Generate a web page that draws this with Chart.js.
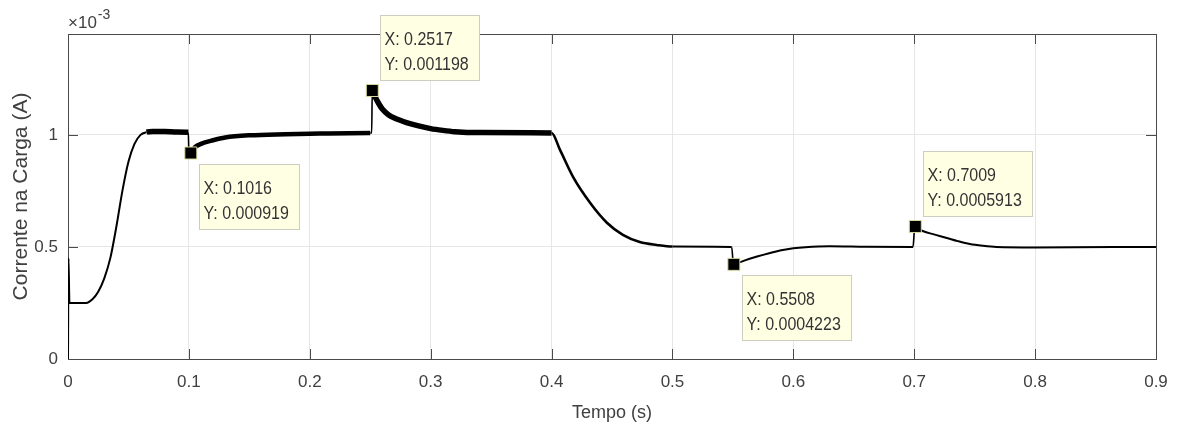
<!DOCTYPE html>
<html>
<head>
<meta charset="utf-8">
<script src="https://cdn.jsdelivr.net/npm/chart.js@4.4.1/dist/chart.umd.min.js"></script>
<style>
  html, body { margin: 0; padding: 0; background: #fff; }
  #wrap { width: 1178px; height: 425px; }
</style>
</head>
<body>
<div id="wrap"><canvas id="chart" width="1178" height="425"></canvas></div>
<script>
// Load current (time in s, current in mA)
const timeS = [
  0, 0.0004, 0.0012, 0.015, 0.02, 0.025, 0.03, 0.035, 0.04, 0.045,
  0.05, 0.055, 0.06, 0.065, 0.07, 0.08, 0.09, 0.0995, 0.1, 0.1016,
  0.105, 0.11, 0.12, 0.13, 0.15, 0.18, 0.2, 0.25, 0.2512, 0.2517,
  0.254, 0.257, 0.26, 0.265, 0.27, 0.28, 0.29, 0.3, 0.31, 0.32,
  0.34, 0.4, 0.407, 0.418, 0.432, 0.446, 0.459, 0.473, 0.487, 0.5,
  0.549, 0.5502, 0.5508, 0.555, 0.56, 0.57, 0.58, 0.59, 0.6, 0.61,
  0.63, 0.66, 0.699, 0.7003, 0.7009, 0.707, 0.717, 0.727, 0.736, 0.746,
  0.757, 0.768, 0.8, 0.9
];
const currentMilliA = [
  0, 0.45, 0.25, 0.25, 0.265, 0.30, 0.36, 0.45, 0.59, 0.75,
  0.88, 0.96, 1.0, 1.012, 1.015, 1.015, 1.013, 1.012, 0.925, 0.919,
  0.945, 0.96, 0.976, 0.988, 0.998, 1.003, 1.005, 1.008, 1.008, 1.198,
  1.17, 1.14, 1.115, 1.09, 1.075, 1.055, 1.04, 1.028, 1.02, 1.014,
  1.01, 1.008, 0.933, 0.81, 0.696, 0.607, 0.554, 0.522, 0.509, 0.502,
  0.5, 0.43, 0.4223, 0.43, 0.44, 0.457, 0.472, 0.485, 0.494, 0.499,
  0.503, 0.501, 0.5, 0.585, 0.5913, 0.571, 0.555, 0.54, 0.526, 0.513,
  0.505, 0.5, 0.498, 0.5
];

// Data tips (values in A, as shown on the tips)
const tipTime = [0.1016, 0.2517, 0.5508, 0.7009];
const tipCurrent = [0.000919, 0.001198, 0.0004223, 0.0005913];
const tipBelow = [true, false, true, false];

const xTicks = [0, 0.1, 0.2, 0.3, 0.4, 0.5, 0.6, 0.7, 0.8, 0.9];
const yTicks = [0, 0.0005, 0.001];

const FONT = '"Liberation Sans", Arial, Helvetica, sans-serif';
const TEXT = '#404040';

const curve = timeS.map((t, i) => ({ x: t, y: currentMilliA[i] * 1e-3 }));
const tips = tipTime.map((t, i) => ({ x: t, y: tipCurrent[i] }));

// MATLAB-style box with inward ticks on all four sides
const framePlugin = {
  id: 'frame',
  beforeDatasetsDraw(chart) {
    const { ctx, chartArea: a, scales: { x, y } } = chart;
    ctx.save();
    ctx.strokeStyle = '#4a4a4a';
    ctx.lineWidth = 1;
    ctx.beginPath();
    xTicks.forEach(v => {
      const px = Math.round(x.getPixelForValue(v)) + 0.5;
      ctx.moveTo(px, a.bottom); ctx.lineTo(px, a.bottom - 10);
      ctx.moveTo(px, a.top); ctx.lineTo(px, a.top + 10);
    });
    yTicks.forEach(v => {
      const py = Math.round(y.getPixelForValue(v)) + 0.5;
      ctx.moveTo(a.left, py); ctx.lineTo(a.left + 10, py);
      ctx.moveTo(a.right, py); ctx.lineTo(a.right - 10, py);
    });
    ctx.stroke();
    ctx.strokeRect(Math.round(a.left) + 0.5, Math.round(a.top) + 0.5,
      Math.round(a.right - a.left), Math.round(a.bottom - a.top));
    ctx.restore();
  },
  afterDraw(chart) {
    const { ctx, chartArea: a } = chart;
    ctx.save();
    ctx.fillStyle = TEXT;
    ctx.textBaseline = 'alphabetic';
    ctx.font = '17px ' + FONT;
    ctx.fillText('\u00d710', a.left, 28);
    const w = ctx.measureText('\u00d710').width;
    ctx.font = '14px ' + FONT;
    ctx.fillText('-3', a.left + w + 1, 19);
    ctx.restore();
  }
};

// Yellow data tip boxes next to the markers
const tipPlugin = {
  id: 'dataTips',
  afterDraw(chart) {
    const { ctx, scales: { x, y } } = chart;
    ctx.save();
    ctx.font = '16px ' + FONT;
    ctx.textBaseline = 'alphabetic';
    tipTime.forEach((t, i) => {
      const px = x.getPixelForValue(t);
      const py = y.getPixelForValue(tipCurrent[i]);
      const lines = ['X: ' + t, 'Y: ' + tipCurrent[i]];
      const w = Math.round(Math.max(...lines.map(s => ctx.measureText(s).width)) + 15);
      const h = 65;
      const bx = Math.round(px + 8) + 0.5;
      const by = Math.round(tipBelow[i] ? py + 11 : py - 10 - h) + 0.5;
      ctx.fillStyle = '#ffffe4';
      ctx.fillRect(bx, by, w, h);
      ctx.strokeStyle = '#cdcdc0';
      ctx.lineWidth = 1;
      ctx.strokeRect(bx, by, w, h);
      ctx.fillStyle = '#333333';
      lines.forEach((s, k) => {
        ctx.save();
        ctx.translate(bx + 4, by + 29 + k * 25);
        ctx.scale(1, 1.2);
        ctx.fillText(s, 0, 0);
        ctx.restore();
      });
    });
    ctx.restore();
  }
};

const ctx = document.getElementById('chart').getContext('2d');
new Chart(ctx, {
  type: 'scatter',
  data: {
    datasets: [
      {
        label: 'data tips',
        data: tips,
        order: 0,
        pointStyle: 'rect',
        pointRadius: 8.5,
        backgroundColor: '#000',
        borderColor: '#dcdca0',
        borderWidth: 1
      },
      {
        label: 'Corrente',
        data: curve,
        order: 1,
        showLine: true,
        pointRadius: 0,
        borderColor: '#000',
        borderWidth: 2,
        cubicInterpolationMode: 'monotone',
        segment: {
          borderWidth: c => {
            const x0 = c.p0.parsed.x, x1 = c.p1.parsed.x;
            if (x1 - x0 < 0.002 && x0 > 0.05) return 1.6;
            if (x0 >= 0.062 && x0 < 0.1) return 5.5;
            if (x0 >= 0.1 && x0 < 0.25) return 4.5;
            if (x0 >= 0.25 && x0 < 0.4) return 5.5;
            if (x0 >= 0.4 && x0 < 0.5) return 2.6;
            return 2;
          }
        }
      }
    ]
  },
  options: {
    responsive: false,
    animation: false,
    events: [],
    layout: { padding: { top: 34, right: 22, bottom: 0, left: 0 } },
    plugins: {
      legend: { display: false },
      tooltip: { enabled: false }
    },
    scales: {
      x: {
        type: 'linear',
        position: 'bottom',
        min: 0,
        max: 0.9,
        afterBuildTicks: s => { s.ticks = xTicks.map(v => ({ value: v })); },
        afterFit: s => { s.height = 66; s.paddingLeft = 0; s.paddingRight = 0; },
        ticks: {
          color: TEXT,
          font: { family: FONT, size: 17 },
          padding: 13,
          maxRotation: 0,
          callback: v => String(Number(v.toFixed(2)))
        },
        grid: { color: '#e6e6e6', lineWidth: 1, drawTicks: false },
        border: { display: false },
        title: {
          display: true,
          text: 'Tempo (s)',
          color: TEXT,
          font: { family: FONT, size: 18 },
          padding: { top: 0, bottom: 1 }
        }
      },
      y: {
        type: 'linear',
        min: 0,
        max: 0.00145,
        afterBuildTicks: s => { s.ticks = yTicks.map(v => ({ value: v })); },
        afterFit: s => { s.width = 68; s.paddingTop = 0; s.paddingBottom = 0; },
        ticks: {
          color: TEXT,
          font: { family: FONT, size: 17 },
          padding: 10,
          callback: v => String(Number((v * 1000).toFixed(2)))
        },
        grid: { color: '#e6e6e6', lineWidth: 1, drawTicks: false },
        border: { display: false },
        title: {
          display: true,
          text: 'Corrente na Carga (A)',
          color: TEXT,
          font: { family: FONT, size: 21 },
          padding: { top: 9, bottom: 0 }
        }
      }
    }
  },
  plugins: [framePlugin, tipPlugin]
});
</script>
</body>
</html>
